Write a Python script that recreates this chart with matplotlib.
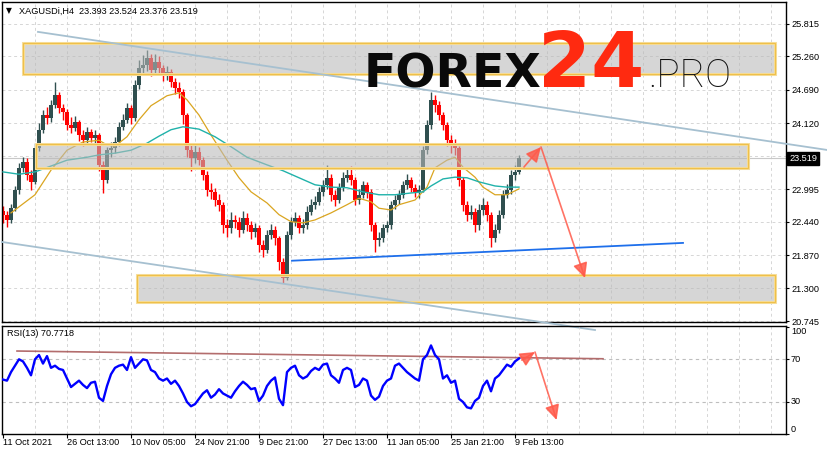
import matplotlib
matplotlib.use("Agg")
import matplotlib.pyplot as plt
import numpy as np
from matplotlib.patches import Rectangle, FancyArrowPatch

plt.rcParams['font.family'] = ['Liberation Sans', 'DejaVu Sans']

# ---------------- data ----------------
title_text = "XAGUSDi,H4  23.393 23.524 23.376 23.519"
rsi_text = "RSI(13) 70.7718"
first_open = 22.62
closes = [22.56, 22.47, 22.67, 22.98, 23.36, 23.46, 23.24, 23.12, 23.70, 24.01,
          24.26, 24.21, 24.43, 24.60, 24.38, 24.31, 24.09, 24.04, 24.14, 23.92,
          23.83, 23.97, 23.87, 23.92, 23.41, 23.15, 23.66, 23.70, 23.80, 24.06,
          24.18, 24.38, 24.21, 24.77, 25.06, 25.12, 25.23, 25.03, 25.17, 25.06,
          24.94, 25.00, 24.83, 24.72, 24.65, 24.26, 23.66, 23.53, 23.63, 23.49,
          23.24, 22.98, 22.95, 22.81, 22.73, 22.38, 22.33, 22.47, 22.44, 22.30,
          22.50, 22.38, 22.26, 22.33, 22.04, 21.96, 22.21, 22.30, 22.16, 21.75,
          21.48, 22.21, 22.44, 22.50, 22.33, 22.38, 22.61, 22.73, 22.78, 22.95,
          23.07, 23.19, 22.90, 22.81, 23.02, 23.19, 23.24, 23.15, 22.81, 22.90,
          23.07, 22.95, 22.38, 22.13, 22.16, 22.33, 22.38, 22.73, 22.81, 22.90,
          23.07, 23.15, 23.02, 22.95, 22.98, 23.66, 24.09, 24.52, 24.43, 24.26,
          24.09, 23.83, 23.75, 23.70, 23.15, 22.73, 22.56, 22.61, 22.38, 22.64,
          22.73, 22.56, 22.16, 22.30, 22.56, 22.90, 22.98, 23.24, 23.29, 23.519]
highs = [22.70, 22.62, 22.74, 23.05, 23.45, 23.55, 23.52, 23.32, 23.78, 24.12,
         24.35, 24.40, 24.52, 24.82, 24.66, 24.45, 24.36, 24.22, 24.24, 24.18,
         24.00, 24.05, 24.03, 24.00, 23.95, 23.48, 23.72, 23.80, 23.88, 24.14,
         24.28, 24.46, 24.44, 24.86, 25.20, 25.28, 25.37, 25.30, 25.30, 25.26,
         25.12, 25.10, 25.05, 24.90, 24.82, 24.70, 24.30, 23.78, 23.75, 23.72,
         23.55, 23.30, 23.10, 23.02, 22.92, 22.78, 22.48, 22.60, 22.56, 22.52,
         22.62, 22.58, 22.45, 22.42, 22.38, 22.12, 22.30, 22.40, 22.36, 22.20,
         21.82, 22.28, 22.52, 22.60, 22.56, 22.48, 22.70, 22.82, 22.88, 23.04,
         23.16, 23.41, 23.25, 22.98, 23.10, 23.28, 23.34, 23.39, 23.20, 23.00,
         23.14, 23.12, 23.00, 22.44, 22.26, 22.40, 22.46, 22.80, 22.90, 22.98,
         23.14, 23.25, 23.20, 23.08, 23.06, 23.74, 24.18, 24.66, 24.60, 24.50,
         24.32, 24.14, 23.92, 23.85, 23.74, 23.20, 22.80, 22.72, 22.68, 22.75,
         22.84, 22.80, 22.60, 22.40, 22.64, 22.98, 23.08, 23.32, 23.40, 23.58]
lows = [22.42, 22.35, 22.42, 22.62, 22.92, 23.28, 23.15, 22.98, 23.08, 23.64,
        23.95, 24.10, 24.15, 24.38, 24.30, 24.18, 24.00, 23.95, 23.98, 23.82,
        23.74, 23.78, 23.80, 23.78, 23.30, 22.93, 23.10, 23.55, 23.62, 23.74,
        24.00, 24.12, 24.10, 24.16, 24.70, 24.95, 25.02, 24.92, 24.96, 24.96,
        24.84, 24.86, 24.74, 24.62, 24.55, 24.10, 23.55, 23.30, 23.45, 23.40,
        23.15, 22.88, 22.82, 22.70, 22.62, 22.25, 22.18, 22.25, 22.33, 22.18,
        22.24, 22.28, 22.15, 22.18, 21.92, 21.84, 21.90, 22.14, 22.05, 21.62,
        21.40, 21.45, 22.15, 22.36, 22.24, 22.25, 22.32, 22.55, 22.66, 22.72,
        22.88, 23.00, 22.80, 22.70, 22.76, 22.96, 23.12, 23.06, 22.72, 22.74,
        22.84, 22.85, 22.28, 21.92, 22.02, 22.10, 22.26, 22.32, 22.66, 22.74,
        22.84, 23.00, 22.94, 22.86, 22.85, 22.94, 23.60, 24.02, 24.32, 24.18,
        24.00, 23.74, 23.62, 23.58, 23.05, 22.62, 22.45, 22.48, 22.26, 22.30,
        22.56, 22.45, 22.01, 22.10, 22.24, 22.50, 22.85, 22.92, 23.16, 23.25]
rsi = [51, 50, 58, 64, 70, 68, 62, 55, 70, 74,
       66, 73, 62, 64, 61, 60, 52, 44, 47, 50,
       46, 43, 48, 49, 34, 31, 45, 56, 62, 64,
       65, 60, 72, 62, 66, 70, 69, 60, 58, 52,
       50, 52, 47, 50, 45, 38, 30, 26, 28, 33,
       38, 41, 34, 37, 42, 38, 36, 34, 40, 45,
       49, 46, 42, 43, 31, 36, 45, 50, 53, 33,
       27, 58, 62, 64, 55, 52, 54, 59, 62, 60,
       65, 66, 55, 52, 48, 60, 62, 60, 44, 46,
       52, 50, 36, 32, 35, 45, 50, 52, 64, 66,
       62, 58, 55, 52, 50, 70, 74, 83, 74, 70,
       52, 55, 48, 50, 33, 30, 25, 24, 31, 34,
       45, 50, 40, 52, 55, 60, 65, 63, 68, 70.77]
ma_fast_idx = [2, 8, 12, 16, 20, 24, 26, 28, 31, 34, 37, 41, 44, 46, 49, 52, 56, 59, 62, 66,
               69, 72, 75, 78, 82, 86, 89, 92, 94, 97, 99, 103, 106, 108, 111, 113, 115, 118,
               120, 123, 126, 129]
ma_fast = [22.59, 22.90, 23.32, 23.66, 23.80, 23.83, 23.75, 23.73, 23.89, 24.18,
           24.42, 24.59, 24.64, 24.52, 24.26, 23.92, 23.49, 23.19, 22.95, 22.76,
           22.56, 22.44, 22.42, 22.47, 22.59, 22.73, 22.84, 22.78, 22.67, 22.64,
           22.73, 22.81, 23.03, 23.36, 23.49, 23.54, 23.37, 23.20, 23.03, 22.90,
           22.90, 23.00]
ma_slow_idx = [0, 4, 8, 12, 16, 21, 24, 28, 32, 36, 39, 42, 45, 49, 53, 57, 61, 66, 70, 74,
               78, 82, 86, 90, 94, 98, 102, 105, 107, 110, 113, 116, 119, 123, 126, 129]
ma_slow = [23.29, 23.25, 23.29, 23.39, 23.49, 23.54, 23.58, 23.61, 23.66, 23.78,
           23.90, 24.01, 24.06, 24.02, 23.89, 23.72, 23.54, 23.41, 23.31, 23.19,
           23.07, 23.03, 23.02, 22.95, 22.90, 22.90, 22.93, 22.95, 23.05, 23.17,
           23.20, 23.19, 23.12, 23.05, 23.03, 23.03]
price_levels = [25.815, 25.260, 24.690, 24.120, 23.555, 22.995, 22.440, 21.870, 21.300, 20.745]
price_labels = ["25.815", "25.260", "24.690", "24.120", "", "22.995", "22.440", "21.870", "21.300", "20.745"]
last_price = 23.519
date_pos = [0, 16, 32, 48, 64, 80, 96, 112, 128]
date_labels = ["11 Oct 2021", "26 Oct 13:00", "10 Nov 05:00", "24 Nov 21:00", "9 Dec 21:00",
               "27 Dec 13:00", "11 Jan 05:00", "25 Jan 21:00", "9 Feb 13:00"]
rsi_levels = [100, 70, 30, 0]
# zones: (start bar, end bar, low price, high price)
zone_top = (5, 193, 24.96, 25.49)
zone_mid = (8.25, 186.25, 23.36, 23.77)
zone_low = (33.5, 193, 21.07, 21.53)
# drawn lines: ((bar, price), (bar, price))
channel_up = ((8.75, 25.68), (206, 23.665))
channel_dn = ((-0.25, 22.094), (148, 20.591))
support = ((72.25, 21.774), (170, 22.078))
arrows_price = [((130.25, 23.374), (134.5, 23.715)), ((134.5, 23.715), (145.5, 21.479))]
rsi_trend = ((3.5, 77.75), (150, 70.5))
arrows_rsi = [((129.7, 69.3), (133, 76.8)), ((133, 76.8), (138.4, 13.1))]

# ---------------- figure ----------------
W, H = 827, 455
fig = plt.figure(figsize=(W / 100, H / 100), dpi=100)
fig.patch.set_facecolor('white')

def fx(px):
    return px / W

def fy(py):
    return 1 - py / H

ax = fig.add_axes([fx(2), fy(322), fx(786) - fx(2), fy(2) - fy(322)])
axr = fig.add_axes([fx(2), fy(434), fx(786) - fx(2), fy(326) - fy(434)], sharex=ax)
axr.patch.set_alpha(0)

ax.set_xlim(-0.25, 195.75)
ax.set_ylim(20.728, 26.19)
axr.set_ylim(0, 101.2)

grid_kw = dict(color='#D6D6D6', lw=0.7, ls=(0, (3, 3)), zorder=0.5)
for g in range(8, 196, 8):
    ax.axvline(g, **grid_kw)
    axr.axvline(g, **grid_kw)
for lv in price_levels:
    ax.axhline(lv, **grid_kw)
for lv in (70, 30):
    axr.axhline(lv, color='#BEBEBE', lw=0.8, ls=(0, (3, 3)), zorder=0.5)

ax.axhline(last_price, color='#C8C8C8', lw=0.8, zorder=1.5)

# candles
c = np.array(closes)
o = np.array([first_open] + closes[:-1])
hi = np.array(highs)
lo = np.array(lows)
x = np.arange(len(c))
cols = np.where(c >= o, '#2F4F4F', '#FF0000')
ax.vlines(x, lo, hi, colors=cols, lw=1.0, zorder=2)
body = np.maximum(np.abs(c - o), 0.01)
ax.bar(x, body, bottom=np.minimum(o, c), width=0.8, color=cols, linewidth=0, zorder=2)

# moving averages
ax.plot(ma_fast_idx, ma_fast, color='#DAA520', lw=0.9, zorder=3)
ax.plot(ma_slow_idx, ma_slow, color='#20B2AA', lw=1.0, zorder=3)

# zones
for z in (zone_top, zone_mid, zone_low):
    x0, x1, p0, p1 = z
    ax.add_patch(Rectangle((x0, p0), x1 - x0, p1 - p0, facecolor='#BABABA', alpha=0.59,
                           edgecolor='none', zorder=4))
    ax.add_patch(Rectangle((x0, p0), x1 - x0, p1 - p0, facecolor='none', edgecolor='#F7DFA0',
                           lw=2.2, zorder=4.4))
    ax.add_patch(Rectangle((x0, p0), x1 - x0, p1 - p0, facecolor='none', edgecolor='#EFC04A',
                           lw=0.9, zorder=4.5))

# trend lines
for (a, b) in (channel_up, channel_dn):
    ax.plot([a[0], b[0]], [a[1], b[1]], color='#A6C0D0', lw=1.3, zorder=5, clip_on=False)
ax.plot([support[0][0], support[1][0]], [support[0][1], support[1][1]],
        color='#1E6FEB', lw=1.3, zorder=5)

arrow_kw = dict(arrowstyle='-|>,head_length=0.45,head_width=0.22', mutation_scale=20,
                color='#FF5A4A', lw=1.2, alpha=0.85, shrinkA=0, shrinkB=0, zorder=6)
for a, b in arrows_price:
    ax.add_patch(FancyArrowPatch(a, b, **arrow_kw))

# RSI panel
axr.plot([rsi_trend[0][0], rsi_trend[1][0]], [rsi_trend[0][1], rsi_trend[1][1]],
         color='#A04848', lw=1.2, alpha=0.8, zorder=2)
axr.plot(x, rsi, color='#0000FF', lw=1.7, zorder=3)
for a, b in arrows_rsi:
    axr.add_patch(FancyArrowPatch(a, b, **arrow_kw))

# axes styling
for a_ in (ax, axr):
    for s in a_.spines.values():
        s.set_color('black')
        s.set_linewidth(1.0)

ax.yaxis.tick_right()
ax.set_yticks(price_levels)
ax.set_yticklabels(price_labels)
ax.tick_params(axis='y', direction='out', length=2.2, width=0.8, pad=2, labelsize=6.6)
ax.tick_params(axis='x', bottom=False, labelbottom=False)

ax.text(1 + 3 / 784, last_price, "23.519", transform=ax.get_yaxis_transform(), va='center',
        ha='left', fontsize=6.6, color='white', zorder=10, clip_on=False,
        bbox=dict(boxstyle='square,pad=0.18', facecolor='black', edgecolor='black'))

axr.yaxis.tick_right()
axr.set_yticks(rsi_levels)
axr.set_yticklabels([])
axr.tick_params(axis='y', direction='out', length=2.2, width=0.8)
vas = {100: 'top', 70: 'center', 30: 'center', 0: 'bottom'}
for lv in rsi_levels:
    axr.text(1 + 5 / 784, lv, str(lv), transform=axr.get_yaxis_transform(), va=vas[lv],
             ha='left', fontsize=6.6, clip_on=False)

axr.set_xticks(date_pos)
axr.set_xticklabels(date_labels, ha='left')
axr.tick_params(axis='x', direction='out', length=2.6, width=0.8, pad=0.5, labelsize=6.6)

# header texts
fig.text(fx(6), fy(11), '\u25BC', fontsize=5.5, family=['DejaVu Sans'], va='center', ha='left')
fig.text(fx(19), fy(11), title_text, fontsize=6.6, va='center', ha='left')
fig.text(fx(7), fy(334), rsi_text, fontsize=6.6, va='center', ha='left')

# logo
fig.text(fx(364), fy(87), 'FOREX', fontsize=34, fontweight='heavy', family=['DejaVu Sans'],
         color='#0A0A0A', va='baseline', ha='left')
fig.text(fx(538), fy(87), '24', fontsize=55, fontweight='bold', family=['DejaVu Sans'],
         color='#FF2A10', va='baseline', ha='left')
fig.text(fx(648), fy(87), '.PRO', fontsize=28, fontweight='light', family=['Roboto', 'DejaVu Sans'],
         color='#111111', va='baseline', ha='left')

fig.savefig('out.png', dpi=100)
